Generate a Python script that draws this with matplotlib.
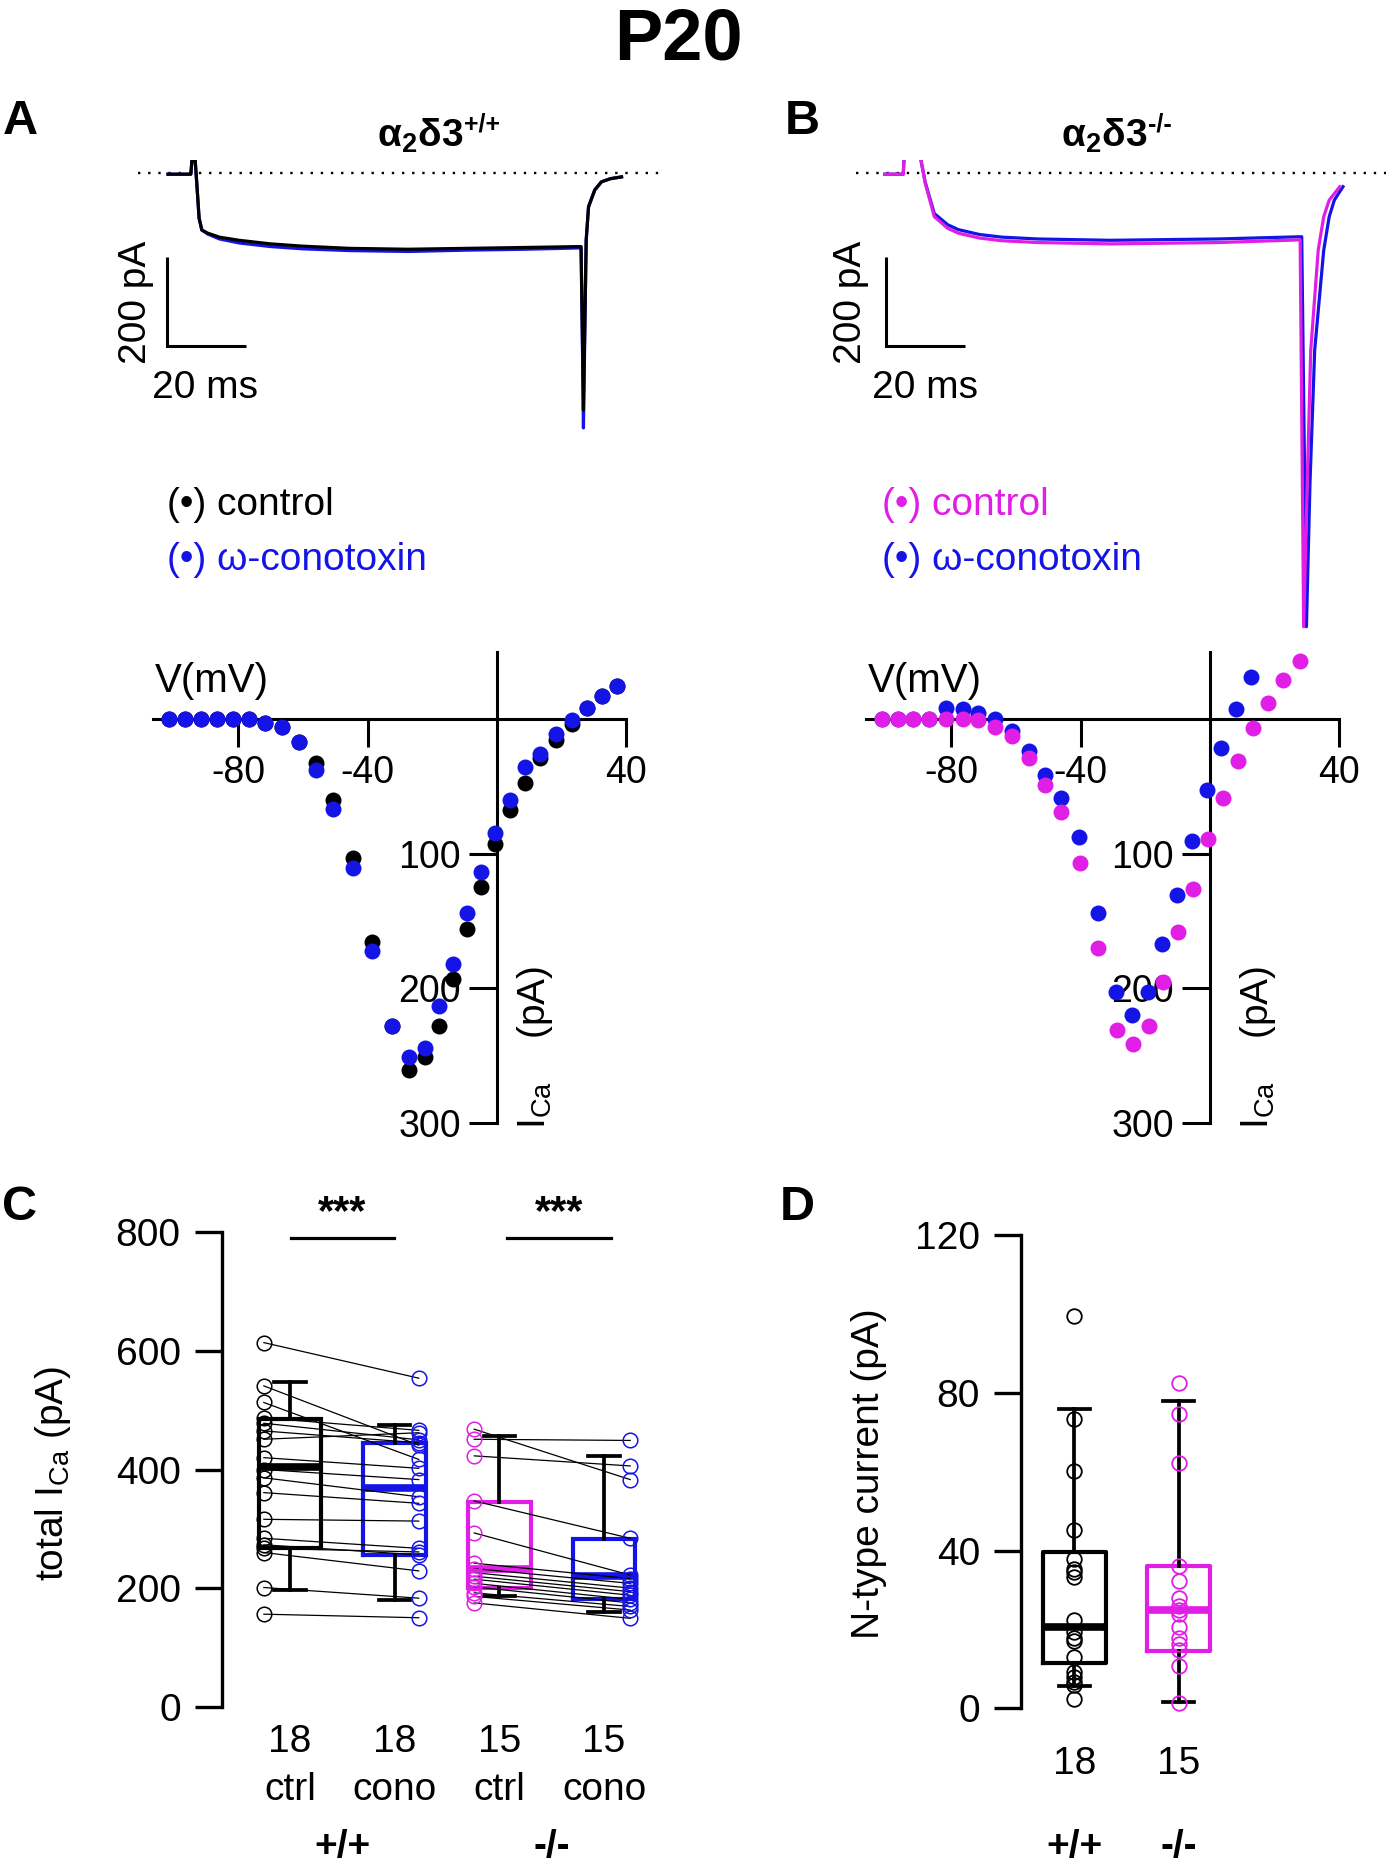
import matplotlib
matplotlib.use('Agg')
import matplotlib.pyplot as plt

# ======================= DATA =======================
# Example current traces (time in ms, current in pA)
tA_ctrl = [-6.1, -0.3, 0.0, 0.8, 1.2, 1.8, 2.5, 4, 7, 12, 20, 28, 40, 55, 70, 85, 99.0, 99.4, 99.6, 100.3, 100.9, 102.5, 104.2, 106.5, 109.3]
IA_ctrl = [-2, -2, 30, 30, -20, -100, -127, -134, -143, -150, -158, -163, -168, -170, -168, -166, -164, -400, -530, -150, -75, -37, -19, -12, -8]
tA_cono = [-6.1, -0.3, 0.0, 0.8, 1.2, 1.8, 2.5, 4, 7, 12, 20, 28, 40, 55, 70, 85, 99.0, 99.4, 99.6, 100.3, 100.9, 102.5, 104.2, 106.5, 109.3]
IA_cono = [-2, -2, 30, 30, -20, -100, -127, -136, -147, -156, -164, -169, -173, -175, -172, -170, -167, -420, -570, -150, -75, -37, -19, -12, -8]

tB_ctrl = [-4.9, -0.2, 0.0, 0.3, 3.8, 4.3, 5.4, 7.7, 11.1, 13.8, 19.2, 25, 34, 52.5, 80, 100.8, 101.7, 102.6, 103.5, 105.4, 106.8, 108.2, 110.9]
IB_ctrl = [-2, -2, 30, 60, 60, 30, -22, -97, -123, -134, -145, -151, -155, -158, -155, -149, -1015, -694, -396, -172, -97, -60, -30]
tB_cono = [-4.9, -0.2, 0.0, 0.3, 3.8, 4.3, 5.4, 7.7, 11.1, 13.8, 19.2, 25, 34, 52.5, 80, 101.2, 102.4, 103.3, 104.5, 106.8, 108.2, 109.5, 111.7]
IB_cono = [-2, -2, 30, 60, 60, 30, -20, -90, -115, -126, -137, -143, -147, -150, -147, -142, -1015, -694, -396, -172, -97, -60, -30]

# I-V relations (V in mV, inward current amplitude in pA)
ivA_V = [-101.4, -96.5, -91.7, -86.5, -81.6, -76.7, -71.7, -66.5, -61.4, -56, -50.6, -44.6, -38.6, -32.4,
         -27.1, -22.3, -17.9, -13.5, -9.2, -4.9, -0.6, 4, 8.7, 13.3, 18.2, 23.1, 27.7, 32.4, 37.2]
ivA_ctrl = [0, 0, 0, 0, 0, 0, 3, 6, 17, 33, 60, 103, 166, 228, 261, 251, 228, 193, 156, 125, 93, 68, 48, 29, 16, 4, -8, -17, -24]
ivA_cono = [0, 0, 0, 0, 0, 0, 3, 6, 17, 38, 67, 111, 172, 228, 251, 244, 213, 182, 144, 114, 85, 60, 36, 26, 11, 1, -8, -17, -24]

ivB_V_cono = [-101.4, -96.6, -92, -86.8, -81.6, -76.5, -71.8, -66.6, -61.4, -56, -51.1, -46, -40.6, -34.8,
              -29.1, -24, -19.3, -14.8, -10.1, -5.7, -1, 3.4, 8.1, 12.7]
ivB_cono = [0, 0, 0, 0, -8, -7, -4, 0, 9, 24, 42, 59, 88, 144, 203, 220, 203, 167, 131, 91, 53, 22, -7, -31]
ivB_V_ctrl = [-101.4, -96.6, -92, -86.8, -81.6, -76.5, -71.8, -66.6, -61.4, -56, -51.1, -46, -40.3, -34.6,
              -28.9, -23.8, -18.9, -14.5, -9.8, -5.4, -0.7, 3.9, 8.6, 13.2, 17.8, 22.7, 27.7]
ivB_ctrl = [0, 0, 0, 0, 0, 0, 1, 6, 13, 29, 49, 69, 107, 170, 231, 241, 228, 195, 158, 126, 89, 59, 31, 7, -12, -29, -43]

# Panel C: total I_Ca, paired cells
wt_ctrl = [614, 541, 513, 487, 478, 465, 451, 420, 400, 386, 361, 316, 284, 273, 267, 260, 201, 156]
wt_cono = [554, 441, 417, 466, 450, 445, 462, 402, 383, 354, 343, 313, 267, 256, 261, 229, 183, 150]
ko_ctrl = [468, 451, 423, 347, 293, 242, 233, 226, 220, 215, 208, 202, 192, 186, 175]
ko_cono = [383, 449, 406, 284, 222, 216, 208, 200, 194, 188, 181, 175, 169, 163, 149]
C_whislo = [197, 180, 186, 160]
C_q1 = [268, 256, 200, 181]
C_med = [405, 368, 233, 220]
C_q3 = [485, 445, 346, 283]
C_whishi = [548, 475, 456, 422]
C_n = ['18', '18', '15', '15']
C_cond = ['ctrl', 'cono', 'ctrl', 'cono']
C_geno = ['+/+', '-/-']

# Panel D: N-type current
nt_wt = [99.4, 73.3, 60.2, 45.2, 37.9, 35.4, 34.5, 33.3, 22.3, 19.4, 17.9, 17.0, 13.1, 9.3, 8.0, 6.7, 5.9, 2.3]
nt_ko = [82.5, 74.7, 62.1, 36.2, 32.2, 28.0, 25.9, 25.0, 24.0, 20.6, 17.7, 16.2, 14.7, 10.8, 1.4]
D_whislo = [5.7, 1.5]
D_q1 = [11.6, 14.5]
D_med = [20.6, 24.8]
D_q3 = [39.6, 36.0]
D_whishi = [76.0, 77.9]
D_n = ['18', '15']
D_geno = ['+/+', '-/-']

# ======================= STYLE =======================
plt.rcParams['font.family'] = ['Liberation Sans', 'DejaVu Sans']
plt.rcParams['mathtext.fontset'] = 'custom'
plt.rcParams['mathtext.rm'] = 'Liberation Sans'
plt.rcParams['mathtext.it'] = 'Liberation Sans:italic'
plt.rcParams['mathtext.bf'] = 'Liberation Sans:bold'
plt.rcParams['axes.unicode_minus'] = False

BLUE = '#1414E6'
MAG = '#E01EE6'
FS = 28

W, H, DPI = 1386, 1863, 100
fig = plt.figure(figsize=(W / DPI, H / DPI), dpi=DPI)


def add_ax(x0, y0, x1, y1):
    return fig.add_axes([x0 / W, 1 - y1 / H, (x1 - x0) / W, (y1 - y0) / H])


def ftext(x, y, s, **kw):
    kw.setdefault('ha', 'center')
    kw.setdefault('va', 'center')
    kw.setdefault('fontsize', FS)
    fig.text(x / W, 1 - y / H, s, **kw)


# ======================= TRACES =======================
PXMS, PXPA, Y0PX = 3.93, 0.4467, 173.3


def trace_panel(x0, x1, t0px, barx_px, traces):
    ax = add_ax(x0, 160, x1, 640)
    ax.set_xlim((x0 - t0px) / PXMS, (x1 - t0px) / PXMS)
    ax.set_ylim(-(640 - Y0PX) / PXPA, (Y0PX - 160) / PXPA)
    ax.axis('off')
    ax.axhline(0, color='black', lw=1.7, ls=(0, (1, 3.3)), zorder=1)
    for t, i, c, z in traces:
        ax.plot(t, i, color=c, lw=2.3, zorder=z, solid_joinstyle='round')
    bx = (barx_px - t0px) / PXMS
    top = -(256.7 - Y0PX) / PXPA
    ax.plot([bx, bx, bx + 20], [top, top - 200, top - 200], color='black', lw=2.2,
            solid_joinstyle='miter', solid_capstyle='butt')
    return ax


trace_panel(138, 660, 192, 167.3, [(tA_cono, IA_cono, BLUE, 2), (tA_ctrl, IA_ctrl, 'black', 3)])
trace_panel(856, 1386, 904, 886, [(tB_cono, IB_cono, BLUE, 2), (tB_ctrl, IB_ctrl, MAG, 3)])

ftext(136, 302, '200 pA', rotation=90)
ftext(205, 388, '20 ms')
ftext(851, 302, '200 pA', rotation=90)
ftext(925, 388, '20 ms')

ftext(167, 505, '(\u2022) control', ha='left', color='black')
ftext(167, 560, '(\u2022) \u03c9-conotoxin', ha='left', color=BLUE)
ftext(882, 505, '(\u2022) control', ha='left', color=MAG)
ftext(882, 560, '(\u2022) \u03c9-conotoxin', ha='left', color=BLUE)

# ======================= IV =======================
PXMV = 3.2325


def iv_panel(zero_px, series):
    ax = add_ax(zero_px - 106.3 * PXMV, 652, zero_px + 40 * PXMV, 1123)
    ax.set_xlim(-106.3, 40)
    ax.set_ylim(300, -49.6)
    for s in ('top', 'right'):
        ax.spines[s].set_visible(False)
    ax.spines['left'].set_position(('data', 0))
    ax.spines['bottom'].set_position(('data', 0))
    for s in ('left', 'bottom'):
        ax.spines[s].set_linewidth(2.2)
    ax.set_xticks([-80, -40, 40])
    ax.set_yticks([100, 200, 300])
    ax.tick_params(length=20, width=2.2, labelsize=27, pad=6)
    ax.patch.set_alpha(0)
    for v, i, c, z in series:
        ax.plot(v, i, 'o', color=c, ms=11.5, mec='none', zorder=z, clip_on=False)
    return ax


iv_panel(497, [(ivA_V, ivA_ctrl, 'black', 3), (ivA_V, ivA_cono, BLUE, 4)])
iv_panel(1210, [(ivB_V_cono, ivB_cono, BLUE, 3), (ivB_V_ctrl, ivB_ctrl, MAG, 4)])

ftext(155, 681, 'V(mV)', ha='left', fontsize=29)
ftext(868, 681, 'V(mV)', ha='left', fontsize=29)
ftext(535, 1047, 'I$_{\\mathregular{Ca}}$    (pA)', rotation=90)
ftext(1258, 1047, 'I$_{\\mathregular{Ca}}$    (pA)', rotation=90)

# ======================= C =======================
CPX = 104.67
axc = add_ax(221.7, 1232.3, 680, 1706.7)
axc.set_xlim(1 - (290 - 221.7) / CPX, 1 + (680 - 290) / CPX)
axc.set_ylim(0, 800)
for s in ('top', 'right', 'bottom'):
    axc.spines[s].set_visible(False)
axc.spines['left'].set_linewidth(2.4)
axc.set_xticks([])
axc.set_yticks([0, 200, 400, 600, 800])
axc.tick_params(axis='y', length=19.5, width=2.4, labelsize=FS, pad=10)
axc.patch.set_alpha(0)

statsC = [dict(whislo=a, q1=b, med=c, q3=d, whishi=e, fliers=[])
          for a, b, c, d, e in zip(C_whislo, C_q1, C_med, C_q3, C_whishi)]
bpC = axc.bxp(statsC, positions=[1, 2, 3, 4], widths=0.6, capwidths=0.3, showfliers=False,
              manage_ticks=False,
              boxprops=dict(linewidth=3.0), medianprops=dict(linewidth=5.5),
              whiskerprops=dict(linewidth=2.7, color='black'), capprops=dict(linewidth=2.7, color='black'))
boxcolors = ['black', BLUE, MAG, BLUE]
for k, c in enumerate(boxcolors):
    bpC['boxes'][k].set_color(c)
    bpC['medians'][k].set_color(c)
    bpC['boxes'][k].set_solid_joinstyle('miter')

pairs = [(wt_ctrl, wt_cono, 0.75, 2.23, 'black', BLUE), (ko_ctrl, ko_cono, 2.76, 4.25, MAG, BLUE)]
for a, b, xa, xb, ca, cb in pairs:
    for va, vb in zip(a, b):
        axc.plot([xa, xb], [va, vb], color='black', lw=0.9, zorder=4)
    axc.plot([xa] * len(a), a, 'o', mfc='none', mec=ca, ms=10.5, mew=1.1, zorder=5, clip_on=False)
    axc.plot([xb] * len(b), b, 'o', mfc='none', mec=cb, ms=10.5, mew=1.1, zorder=5, clip_on=False)

for x1, x2 in [(1.01, 1.99), (3.07, 4.07)]:
    axc.plot([x1, x2], [790, 790], color='black', lw=2.3, clip_on=False)
    axc.text((x1 + x2) / 2, 798, '***', ha='center', va='bottom', fontsize=30, fontweight='bold')

for k in range(4):
    xp = 290 + k * CPX
    ftext(xp, 1742, C_n[k])
    ftext(xp, 1790, C_cond[k])
ftext(342, 1847, C_geno[0], fontweight='bold')
ftext(552, 1847, C_geno[1], fontweight='bold')
ftext(53, 1473, 'total I$_{\\mathregular{Ca}}$ (pA)', rotation=90)

# ======================= D =======================
DPX = 104.4
axd = add_ax(1021, 1235, 1300, 1708.3)
axd.set_xlim(1 - (1074.3 - 1021) / DPX, 1 + (1300 - 1074.3) / DPX)
axd.set_ylim(0, 120)
for s in ('top', 'right', 'bottom'):
    axd.spines[s].set_visible(False)
axd.spines['left'].set_linewidth(2.4)
axd.set_xticks([])
axd.set_yticks([0, 40, 80, 120])
axd.tick_params(axis='y', length=19.5, width=2.4, labelsize=FS, pad=10)
axd.patch.set_alpha(0)

statsD = [dict(whislo=a, q1=b, med=c, q3=d, whishi=e, fliers=[])
          for a, b, c, d, e in zip(D_whislo, D_q1, D_med, D_q3, D_whishi)]
bpD = axd.bxp(statsD, positions=[1, 2], widths=0.6, capwidths=0.3, showfliers=False,
              manage_ticks=False,
              boxprops=dict(linewidth=3.0), medianprops=dict(linewidth=5.5),
              whiskerprops=dict(linewidth=2.7, color='black'), capprops=dict(linewidth=2.7, color='black'))
for k, c in enumerate(['black', MAG]):
    bpD['boxes'][k].set_color(c)
    bpD['medians'][k].set_color(c)
axd.plot([1] * len(nt_wt), nt_wt, 'o', mfc='none', mec='black', ms=10.5, mew=1.3, zorder=5, clip_on=False)
axd.plot([2] * len(nt_ko), nt_ko, 'o', mfc='none', mec=MAG, ms=10.5, mew=1.3, zorder=5, clip_on=False)

for k in range(2):
    xp = 1074.3 + k * DPX
    ftext(xp, 1764, D_n[k])
    ftext(xp, 1847, D_geno[k], fontweight='bold')
ftext(869, 1474, 'N-type current (pA)', rotation=90)

# ======================= TITLES =======================
ftext(678, 40, 'P20', fontsize=52, fontweight='bold')
ftext(20, 121, 'A', fontsize=35, fontweight='bold')
ftext(802, 121, 'B', fontsize=35, fontweight='bold')
ftext(20, 1207, 'C', fontsize=35, fontweight='bold')
ftext(797, 1207, 'D', fontsize=35, fontweight='bold')
# genotype headers: main part + superscript
ftext(463, 147, '$\\mathbf{\u03b1_2\u03b43}$', fontsize=28, ha='right', va='baseline')
ftext(464, 131, '+/+', fontsize=18, fontweight='bold', ha='left', va='baseline')
ftext(1147, 147, '$\\mathbf{\u03b1_2\u03b43}$', fontsize=28, ha='right', va='baseline')
ftext(1148, 131, '-/-', fontsize=18, fontweight='bold', ha='left', va='baseline')

fig.savefig('out.png', dpi=DPI)
